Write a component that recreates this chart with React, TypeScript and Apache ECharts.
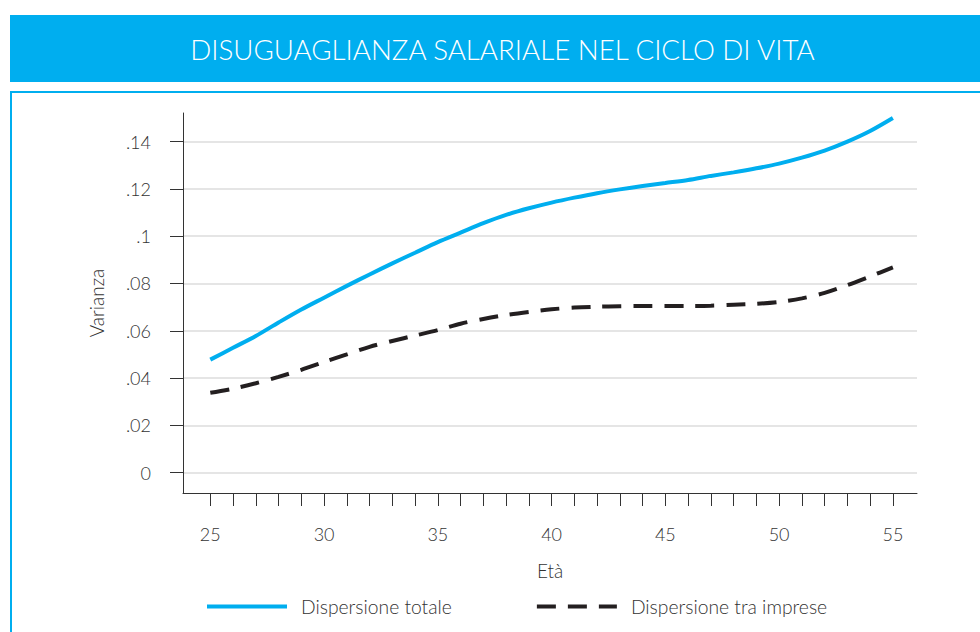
import React, { useEffect, useRef } from "react";
import * as echarts from "echarts";

const TITLE = "DISUGUAGLIANZA SALARIALE NEL CICLO DI VITA";
const ages = [25, 26, 27, 28, 29, 30, 31, 32, 33, 34, 35, 36, 37, 38, 39, 40, 41, 42, 43, 44, 45, 46, 47, 48, 49, 50, 51, 52, 53, 54, 55];
const dispersioneTotale = [0.0478, 0.0528, 0.0578, 0.0635, 0.069, 0.074, 0.079, 0.0838, 0.0885, 0.093, 0.0975, 0.1015, 0.1055, 0.109, 0.1118, 0.1142, 0.1163, 0.1182, 0.1198, 0.1212, 0.1225, 0.1238, 0.1255, 0.127, 0.1287, 0.1307, 0.1332, 0.1362, 0.14, 0.1445, 0.15];
const dispersioneImprese = [0.0338, 0.0355, 0.0378, 0.0405, 0.0435, 0.0468, 0.05, 0.0532, 0.0557, 0.058, 0.0603, 0.063, 0.065, 0.0667, 0.068, 0.0691, 0.0698, 0.0702, 0.0704, 0.0705, 0.0705, 0.0705, 0.0706, 0.071, 0.0714, 0.0722, 0.0737, 0.076, 0.0793, 0.083, 0.0868];
const xTickValues = ages;
const xLabelValues = [25, 30, 35, 40, 45, 50, 55];
const yTickValues = [0, 0.02, 0.04, 0.06, 0.08, 0.1, 0.12, 0.14];
const yTickLabels: Record<string, string> = { "0": "0", "0.02": ".02", "0.04": ".04", "0.06": ".06", "0.08": ".08", "0.1": ".1", "0.12": ".12", "0.14": ".14" };

const FONT = "Lato, 'Open Sans', sans-serif";

export default function App() {
  const ref = useRef<HTMLDivElement>(null);
  useEffect(() => {
    if (!ref.current) return;
    const chart = echarts.init(ref.current, null, { renderer: "svg" });
    chart.setOption({
      animation: false,
      backgroundColor: "#ffffff",
      textStyle: { fontFamily: FONT },
      graphic: [
        { type: "rect", shape: { x: 10, y: 15, width: 970, height: 67 }, style: { fill: "#00AEEF" }, silent: true },
        { type: "text", x: 502.5, y: 49, style: { text: TITLE, fill: "#ffffff", font: `300 27.7px ${FONT}`, textAlign: "center", textVerticalAlign: "middle" }, silent: true },
        { type: "rect", shape: { x: 11, y: 92, width: 1000, height: 600 }, style: { fill: "none", stroke: "#00AEEF", lineWidth: 2 }, silent: true },
      ],
      grid: { left: 183, right: 63, top: 113, bottom: 139, containLabel: false },
      legend: {
        left: 200,
        top: 592,
        itemWidth: 80,
        itemHeight: 20,
        itemGap: 83,
        itemStyle: { opacity: 0 },
        lineStyle: { width: 4 },
        textStyle: { fontSize: 19.3, fontWeight: 300, color: "#333", fontFamily: FONT, padding: [0, 0, 0, 9] },
        data: ["Dispersione totale", "Dispersione tra imprese"],
      },
      xAxis: {
        type: "value",
        min: 23.8,
        max: 56.06,
        name: "Età",
        nameLocation: "middle",
        nameGap: 68,
        nameTextStyle: { fontSize: 19, fontWeight: 300, color: "#333", fontFamily: FONT },
        axisLine: { show: true, onZero: false, lineStyle: { color: "#333", width: 1 } },
        axisTick: { show: true, length: 13, customValues: xTickValues, lineStyle: { color: "#333", width: 1 } },
        axisLabel: { customValues: xLabelValues, margin: 32, fontSize: 18, fontWeight: 300, color: "#333", fontFamily: FONT },
        splitLine: { show: false },
      },
      yAxis: {
        type: "value",
        min: -0.0086,
        max: 0.1521,
        name: "Varianza",
        nameLocation: "middle",
        nameGap: 77,
        nameTextStyle: { fontSize: 19, fontWeight: 300, color: "#333", fontFamily: FONT },
        axisLine: { show: true, onZero: false, lineStyle: { color: "#333", width: 1 } },
        axisTick: { show: true, length: 13, customValues: yTickValues, lineStyle: { color: "#333", width: 1 } },
        axisLabel: {
          customValues: yTickValues,
          margin: 32,
          fontSize: 18,
          fontWeight: 300,
          color: "#333",
          fontFamily: FONT,
          formatter: (v: number) => yTickLabels[String(Math.round(v * 100) / 100)] ?? String(v),
        },
        splitLine: { show: true, lineStyle: { color: "#dcdcdc", width: 1.5 } },
      },
      series: [
        {
          name: "Dispersione totale",
          type: "line",
          smooth: 0.3,
          symbol: "none",
          data: ages.map((a, i) => [a, dispersioneTotale[i]]),
          lineStyle: { color: "#00AEEF", width: 4 },
          itemStyle: { color: "#00AEEF" },
        },
        {
          name: "Dispersione tra imprese",
          type: "line",
          smooth: 0.3,
          symbol: "none",
          data: ages.map((a, i) => [a, dispersioneImprese[i]]),
          lineStyle: { color: "#231F20", width: 4, type: [19, 12] },
          itemStyle: { color: "#231F20" },
        },
      ],
    });
    return () => chart.dispose();
  }, []);
  return <div ref={ref} style={{ width: 980, height: 632, position: "absolute", left: 0, top: 0 }} />;
}
